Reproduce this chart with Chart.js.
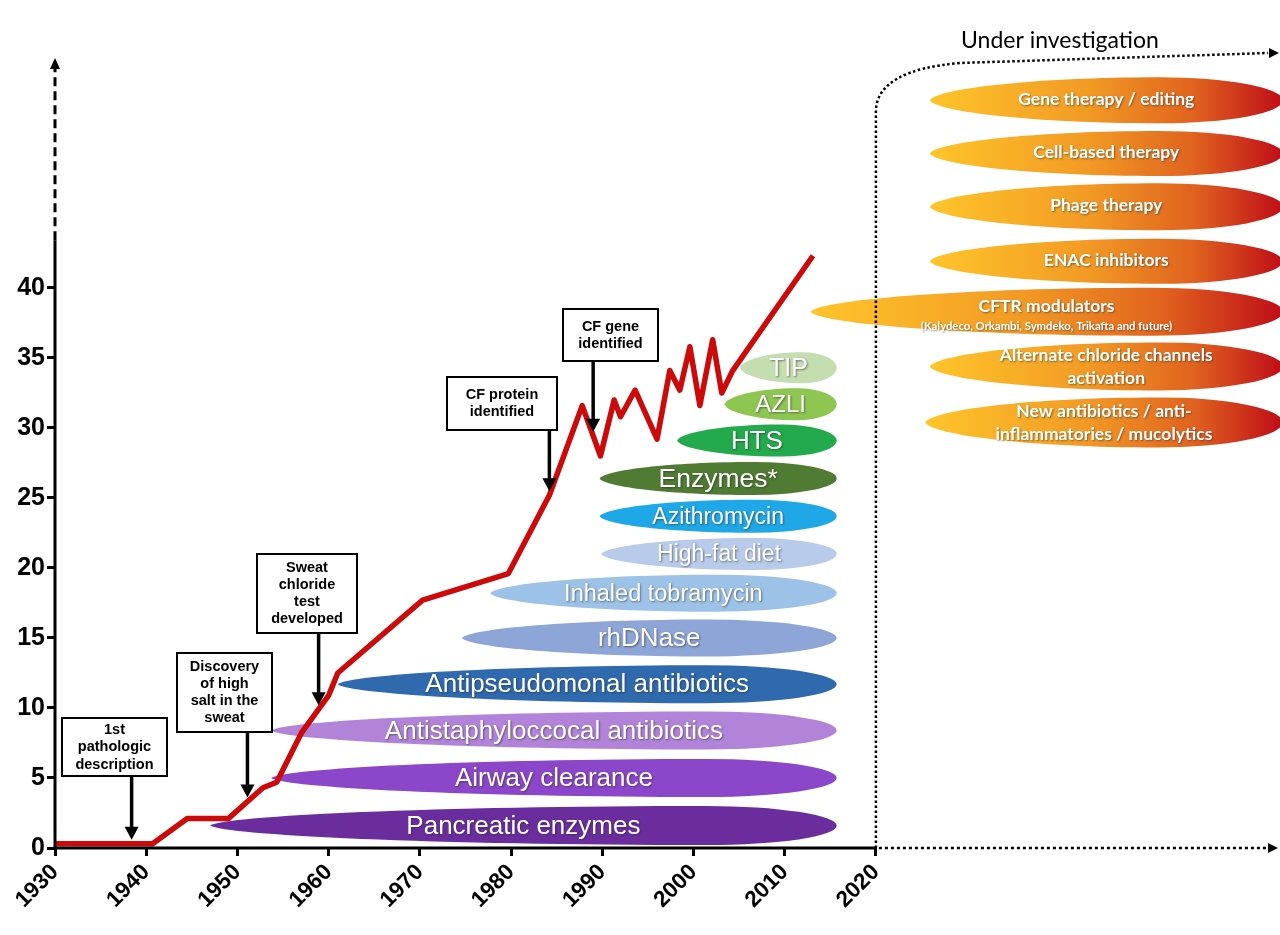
<!DOCTYPE html>
<html lang="en">
<head>
<meta charset="UTF-8">
<title>CF survival and treatments</title>
<style>
  html, body { margin: 0; padding: 0; background: #fff; }
  canvas { display: block; }
</style>
<script src="https://cdn.jsdelivr.net/npm/chart.js"></script>
</head>
<body>
<canvas id="cfChart" width="1280" height="935"></canvas>
<script>
// predicted survival curve (years)
const lifeYears  = [1930, 1940.7, 1944.5, 1949, 1952.8, 1954.3, 1957, 1960, 1961, 1970.3, 1979.7, 1984.2, 1987.8, 1989.8, 1991.3, 1992, 1993.6, 1996, 1997.4, 1998.5, 1999.6, 2000.7, 2002.1, 2003.1, 2004.3, 2013.1];
const lifeValues = [0.3, 0.3, 2.1, 2.1, 4.3, 4.7, 8.2, 10.9, 12.5, 17.7, 19.6, 25.2, 31.6, 28.0, 32.0, 30.8, 32.7, 29.2, 34.1, 32.7, 35.8, 31.6, 36.3, 32.5, 34.1, 42.3];

const xTicks = [1930, 1940, 1950, 1960, 1970, 1980, 1990, 2000, 2010, 2020];
const yTicks = [0, 5, 10, 15, 20, 25, 30, 35, 40];

// milestones
const eventLabels = [
  ['1st', 'pathologic', 'description'],
  ['Discovery', 'of high', 'salt in the', 'sweat'],
  ['Sweat', 'chloride', 'test', 'developed'],
  ['CF protein', 'identified'],
  ['CF gene', 'identified']
];
const eventYears = [1938.4, 1951.1, 1958.9, 1984.2, 1989.0];

// treatments in use
const treatmentNames = ['Pancreatic enzymes', 'Airway clearance', 'Antistaphyloccocal antibiotics', 'Antipseudomonal antibiotics', 'rhDNase', 'Inhaled tobramycin', 'High-fat diet', 'Azithromycin', 'Enzymes*', 'HTS', 'AZLI', 'TIP'];
const treatmentStart = [1947.0, 1953.7, 1953.7, 1961.0, 1974.6, 1977.7, 1989.9, 1989.7, 1989.7, 1998.2, 2003.4, 2005.1];
const treatmentEnd   = [2015.7, 2015.7, 2015.7, 2015.7, 2015.7, 2015.7, 2015.7, 2015.7, 2015.7, 2015.7, 2015.7, 2015.7];
const treatmentLevel = [1.6, 5.0, 8.4, 11.7, 15.0, 18.2, 21.0, 23.7, 26.4, 29.1, 31.7, 34.3];

// under investigation
const futureNames = [
  ['Gene therapy / editing'],
  ['Cell-based therapy'],
  ['Phage therapy'],
  ['ENAC inhibitors'],
  ['CFTR modulators'],
  ['Alternate chloride channels', 'activation'],
  ['New antibiotics / anti-', 'inflammatories / mucolytics']
];
const futureNotes = ['', '', '', '', '(Kalydeco, Orkambi, Symdeko, Trikafta and future)', '', ''];
const futureStart = [2025.9, 2025.9, 2025.9, 2025.9, 2012.8, 2025.9, 2025.4];
const futureEnd   = [2064.6, 2064.6, 2064.6, 2064.6, 2064.6, 2064.6, 2064.6];
const futureLevel = [53.4, 49.6, 45.8, 41.9, 38.3, 34.4, 30.4];

// ---- styles ----
const treatmentColors  = ['#6b2d9e', '#8c46c9', '#b184d9', '#2e6aad', '#8ea5d8', '#9cc2e8', '#b9cbea', '#1fa8e8', '#4f7b32', '#22aa4c', '#8dc651', '#c5deb0'];
const treatmentHeights = [39, 38, 38, 38, 37, 37, 32, 33, 33, 32, 32, 31];
const treatmentFonts   = [26, 26, 26, 26, 26, 23.5, 23, 23, 26.5, 26, 24, 25];
const futureHeights    = [46, 45, 47, 45, 48, 48, 50];
const boxes = [ // callout boxes, px
  {left: 62,  top: 718, w: 105, h: 58, lh: 17.5},
  {left: 177, top: 653, w: 95,  h: 79, lh: 17},
  {left: 257, top: 554, w: 100, h: 79, lh: 17.3},
  {left: 447, top: 377, w: 110, h: 53, lh: 16.5},
  {left: 563, top: 309, w: 95,  h: 52, lh: 17}
];
const SANS = '"Liberation Sans", Arial, sans-serif';

function valueAt(year) {
  for (let i = 1; i < lifeYears.length; i++) {
    if (year <= lifeYears[i]) {
      const t = (year - lifeYears[i - 1]) / (lifeYears[i] - lifeYears[i - 1]);
      return lifeValues[i - 1] + t * (lifeValues[i] - lifeValues[i - 1]);
    }
  }
  return lifeValues[lifeValues.length - 1];
}

// ellipse-like band, slightly pointed on the left
function leaf(ctx, x0, x1, yc, h) {
  const hh = h / 2, w = x1 - x0;
  const rr = Math.min(w * 0.35, 130);
  const cx = x1 - rr, L = cx - x0;
  ctx.beginPath();
  ctx.moveTo(x0, yc);
  ctx.bezierCurveTo(x0 + L * 0.03, yc - hh * 0.5, cx - L * 0.55, yc - hh, cx, yc - hh);
  ctx.ellipse(cx, yc, rr, hh, 0, -Math.PI / 2, Math.PI / 2);
  ctx.bezierCurveTo(cx - L * 0.55, yc + hh, x0 + L * 0.03, yc + hh * 0.5, x0, yc);
  ctx.closePath();
}

function shadowText(ctx, text, x, y, font) {
  ctx.save();
  ctx.font = font;
  ctx.textAlign = 'center';
  ctx.textBaseline = 'middle';
  ctx.shadowColor = 'rgba(40,40,40,0.55)';
  ctx.shadowOffsetX = 1;
  ctx.shadowOffsetY = 1;
  ctx.shadowBlur = 2;
  ctx.fillStyle = '#fff';
  ctx.fillText(text, x, y);
  ctx.restore();
}

function arrowHead(ctx, x, y, dir) { // dir: 'down', 'up', 'right'
  ctx.beginPath();
  if (dir === 'down') { ctx.moveTo(x - 7, y - 13); ctx.lineTo(x + 7, y - 13); ctx.lineTo(x, y); }
  if (dir === 'up')   { ctx.moveTo(x - 5, y + 11); ctx.lineTo(x + 5, y + 11); ctx.lineTo(x, y); }
  if (dir === 'right'){ ctx.moveTo(x - 10, y - 5); ctx.lineTo(x - 10, y + 5); ctx.lineTo(x, y); }
  ctx.closePath();
  ctx.fill();
}

const decor = {
  id: 'decor',
  beforeDatasetsDraw(chart) {
    const {ctx, scales: {x, y}} = chart;
    ctx.save();
    treatmentNames.forEach((name, i) => {
      const x0 = x.getPixelForValue(treatmentStart[i]);
      const x1 = x.getPixelForValue(treatmentEnd[i]);
      const yc = y.getPixelForValue(treatmentLevel[i]);
      leaf(ctx, x0, x1, yc, treatmentHeights[i]);
      ctx.fillStyle = treatmentColors[i];
      ctx.fill();
      shadowText(ctx, name, (x0 + x1) / 2, yc + 1, treatmentFonts[i] + 'px ' + SANS);
    });
    futureNames.forEach((lines, i) => {
      const x0 = x.getPixelForValue(futureStart[i]);
      const x1 = x.getPixelForValue(futureEnd[i]);
      const yc = y.getPixelForValue(futureLevel[i]);
      const g = ctx.createLinearGradient(x0, 0, x1, 0);
      g.addColorStop(0, '#ffc52a');
      g.addColorStop(0.45, '#f29a24');
      g.addColorStop(0.75, '#e0621e');
      g.addColorStop(1, '#bf0d18');
      leaf(ctx, x0, x1, yc, futureHeights[i]);
      ctx.fillStyle = g;
      ctx.fill();
      const cx = (x0 + x1) / 2;
      const f = 'bold 17.5px Lato, sans-serif';
      if (futureNotes[i]) {
        shadowText(ctx, lines[0], cx, yc - 5, f);
        shadowText(ctx, futureNotes[i], cx, yc + 15, 'bold 11.3px Lato, sans-serif');
      } else if (lines.length === 2) {
        shadowText(ctx, lines[0], cx, yc - 11, f);
        shadowText(ctx, lines[1], cx, yc + 12, f);
      } else {
        shadowText(ctx, lines[0], cx, yc - 1, f);
      }
    });
    ctx.restore();
  },
  afterDatasetsDraw(chart) {
    const {ctx, chartArea, scales: {x, y}} = chart;
    const ax = x.getPixelForValue(1930), ay = y.getPixelForValue(0);
    const x2020 = x.getPixelForValue(2020);
    const ySolid = y.getPixelForValue(43.4);
    ctx.save();
    ctx.strokeStyle = '#000';
    ctx.fillStyle = '#000';
    // y axis
    ctx.lineWidth = 3;
    ctx.beginPath(); ctx.moveTo(ax, ay + 1.5); ctx.lineTo(ax, ySolid); ctx.stroke();
    ctx.setLineDash([9, 5]);
    ctx.beginPath(); ctx.moveTo(ax, ySolid); ctx.lineTo(ax, chartArea.top + 12); ctx.stroke();
    ctx.setLineDash([]);
    arrowHead(ctx, ax, chartArea.top + 3, 'up');
    // x axis
    ctx.beginPath(); ctx.moveTo(ax - 1.5, ay); ctx.lineTo(x2020, ay); ctx.stroke();
    ctx.lineWidth = 2.5;
    ctx.setLineDash([3, 3]);
    ctx.beginPath(); ctx.moveTo(x2020 + 3, ay); ctx.lineTo(1268, ay); ctx.stroke();
    // investigation bracket
    ctx.setLineDash([2.5, 2.5]);
    ctx.beginPath();
    ctx.moveTo(x2020, ay);
    ctx.lineTo(x2020, 110);
    ctx.quadraticCurveTo(x2020 + 2, 70, 960, 63);
    ctx.lineTo(1268, 53);
    ctx.stroke();
    ctx.setLineDash([]);
    arrowHead(ctx, 1278, ay, 'right');
    arrowHead(ctx, 1279, 53, 'right');
    ctx.font = '23px Lato, sans-serif';
    ctx.textAlign = 'left';
    ctx.textBaseline = 'middle';
    ctx.fillText('Under investigation', 961, 41);
    // callouts
    boxes.forEach((b, i) => {
      const axp = x.getPixelForValue(eventYears[i]);
      const tip = y.getPixelForValue(valueAt(eventYears[i])) - 4;
      ctx.fillStyle = '#fff';
      ctx.fillRect(b.left, b.top, b.w, b.h);
      ctx.lineWidth = 2;
      ctx.strokeRect(b.left, b.top, b.w, b.h);
      ctx.fillStyle = '#000';
      ctx.font = 'bold 14.5px ' + SANS;
      ctx.textAlign = 'center';
      const lines = eventLabels[i];
      const first = b.top + b.h / 2 - (lines.length - 1) * b.lh / 2;
      lines.forEach((t, k) => ctx.fillText(t, b.left + b.w / 2, first + k * b.lh));
      ctx.lineWidth = 3.5;
      ctx.beginPath(); ctx.moveTo(axp, b.top + b.h + 1); ctx.lineTo(axp, tip - 10); ctx.stroke();
      arrowHead(ctx, axp, tip, 'down');
    });
    ctx.restore();
  }
};

new Chart(document.getElementById('cfChart'), {
  type: 'line',
  data: {
    datasets: [{
      data: lifeYears.map((yr, i) => ({x: yr, y: lifeValues[i]})),
      borderColor: '#cc0a0a',
      borderWidth: 5.5,
      borderJoinStyle: 'round',
      pointRadius: 0,
      tension: 0,
      fill: false
    }]
  },
  options: {
    responsive: false,
    animation: false,
    devicePixelRatio: 1,
    layout: {padding: {top: 55, right: 0, left: 0, bottom: 0}},
    plugins: {legend: {display: false}, tooltip: {enabled: false}},
    scales: {
      x: {
        type: 'linear',
        min: 1930,
        max: 2064.3,
        afterBuildTicks: s => { s.ticks = xTicks.map(v => ({value: v})); },
        afterFit: s => { s.height = 87; },
        border: {display: false},
        grid: {drawOnChartArea: false, drawTicks: true, tickLength: 8, tickWidth: 3, tickColor: '#000'},
        ticks: {
          autoSkip: false, minRotation: 45, maxRotation: 45, padding: 3, color: '#000',
          font: {family: SANS, size: 22.5, weight: 'bold'},
          callback: v => String(v)
        }
      },
      y: {
        min: 0,
        max: 56.64,
        afterBuildTicks: s => { s.ticks = yTicks.map(v => ({value: v})); },
        afterFit: s => { s.width = 55; },
        border: {display: false},
        grid: {drawOnChartArea: false, drawTicks: true, tickLength: 8, tickWidth: 3, tickColor: '#000'},
        ticks: {
          padding: 2, color: '#000',
          font: {family: SANS, size: 25, weight: 'bold'},
          callback: v => String(v)
        }
      }
    }
  },
  plugins: [decor]
});
</script>
</body>
</html>
